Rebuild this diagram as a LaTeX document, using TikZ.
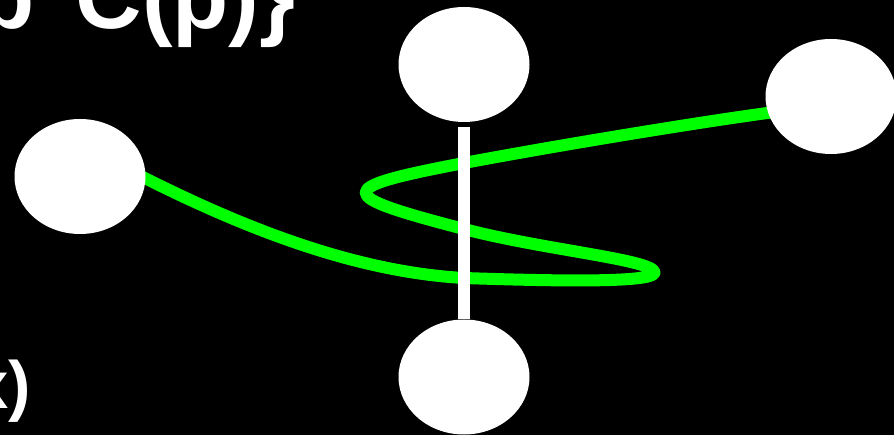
\documentclass[tikz,border=0pt]{standalone}
\usepackage{fontspec}
\setmainfont{Liberation Sans}
\usetikzlibrary{shapes.geometric,calc}
\definecolor{brightgreen}{RGB}{0,255,0}
\pgfdeclarelayer{back}
\pgfdeclarelayer{curve}
\pgfsetlayers{back,curve,main}
\tikzset{
  blob/.style={ellipse, fill=white, draw=none, inner sep=0pt, minimum width=131pt, minimum height=115pt},
  gline/.style={draw=brightgreen, line width=12pt, line cap=butt, line join=round},
  wbar/.style={draw=white, line width=12pt, line cap=butt},
  bigtext/.style={text=white, inner sep=0pt, anchor=base west}
}
\begin{document}
\begin{tikzpicture}[x=1pt,y=-1pt]
\begin{pgfonlayer}{back}
\fill[black] (0,0) rectangle (894,435);
\end{pgfonlayer}
\useasboundingbox (0,0) rectangle (894,435);
\node[bigtext, font=\bfseries\fontsize{92}{92}\selectfont] (toptext) at (-22,29) {p\hspace{0.45em}C(p)\}};
\node[bigtext, font=\bfseries\fontsize{67}{67}\selectfont] (bottext) at (-29,408) {x)};
\node[blob] (top) at (464,64.5) {};
\node[blob] (left) at (80,176.5) {};
\node[blob] (right) at (831,96.5) {};
\node[blob] (bottom) at (464,377) {};
\coordinate (bartop) at (464,127);
\begin{pgfonlayer}{curve}
\draw[gline] ($(left.east)+(-4,0)$) .. controls (242,227) and (354,272) .. (464,278)
  .. controls (580,282) and (662,282) .. (654,271)
  .. controls (646,259) and (540,249) .. (464,229)
  .. controls (333,195) and (333,188) .. (464,163)
  .. controls (560,145) and (700,122) .. ($(right.195)+(4,-1)$);
\end{pgfonlayer}
\draw[wbar] (bartop) -- (bottom.north);
\end{tikzpicture}
\end{document}
